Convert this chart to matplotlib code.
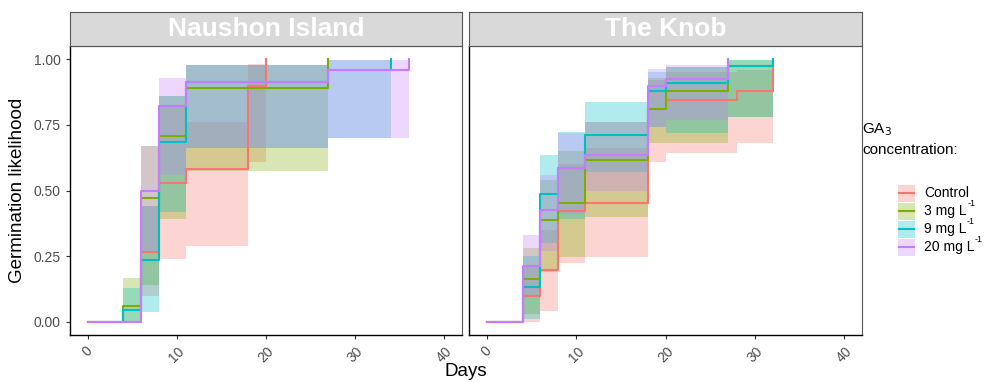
import matplotlib
matplotlib.use("Agg")
import matplotlib.pyplot as plt
from matplotlib.patches import Rectangle
from matplotlib.lines import Line2D

plt.rcParams['font.family'] = ['Liberation Sans', 'DejaVu Sans']

# ---------------- data ----------------
groups = ["Control", "3 mg L", "9 mg L", "20 mg L"]
group_sup = ["", "-1", "-1", "-1"]
colors = ["#F8766D", "#7CAE00", "#00BFC4", "#C77CFF"]
panels = ["Naushon Island", "The Knob"]

# Naushon Island
ni_ctrl_t = [0, 6, 8, 11, 18, 20]
ni_ctrl_y = [0, 0.266, 0.529, 0.580, 0.898, 1.0]
ni_ctrl_lo = [0, 0.10, 0.24, 0.29, 0.61, 1.0]
ni_ctrl_hi = [0, 0.44, 0.82, 0.76, 0.98, 1.0]

ni_3_t = [0, 4, 6, 8, 11, 27]
ni_3_y = [0, 0.060, 0.473, 0.709, 0.889, 1.0]
ni_3_lo = [0, 0.0, 0.14, 0.39, 0.575, 1.0]
ni_3_hi = [0, 0.167, 0.67, 0.86, 0.978, 1.0]

ni_9_t = [0, 4, 6, 8, 11, 27, 34]
ni_9_y = [0, 0.045, 0.234, 0.686, 0.913, 0.959, 1.0]
ni_9_lo = [0, 0.0, 0.037, 0.42, 0.66, 0.70, 1.0]
ni_9_hi = [0, 0.13, 0.44, 0.86, 0.978, 0.995, 1.0]

ni_20_t = [0, 6, 8, 11, 27, 36]
ni_20_y = [0, 0.500, 0.822, 0.913, 0.959, 1.0]
ni_20_lo = [0, 0.27, 0.56, 0.66, 0.70, 1.0]
ni_20_hi = [0, 0.67, 0.93, 0.978, 0.995, 1.0]

# The Knob
tk_ctrl_t = [0, 4, 6, 8, 11, 18, 20, 28, 32]
tk_ctrl_y = [0, 0.100, 0.196, 0.422, 0.454, 0.810, 0.845, 0.877, 1.0]
tk_ctrl_lo = [0, 0.0, 0.043, 0.225, 0.247, 0.61, 0.644, 0.68, 1.0]
tk_ctrl_hi = [0, 0.21, 0.35, 0.60, 0.66, 0.93, 0.95, 0.96, 1.0]

tk_3_t = [0, 4, 6, 8, 11, 18, 20, 27, 32]
tk_3_y = [0, 0.164, 0.389, 0.454, 0.616, 0.810, 0.877, 0.972, 1.0]
tk_3_lo = [0, 0.03, 0.19, 0.247, 0.40, 0.68, 0.682, 0.78, 1.0]
tk_3_hi = [0, 0.28, 0.54, 0.65, 0.76, 0.92, 0.97, 0.997, 1.0]

tk_9_t = [0, 4, 6, 8, 11, 18, 20, 27, 32]
tk_9_y = [0, 0.132, 0.486, 0.584, 0.711, 0.877, 0.908, 0.972, 1.0]
tk_9_lo = [0, 0.01, 0.30, 0.39, 0.57, 0.74, 0.718, 0.78, 1.0]
tk_9_hi = [0, 0.25, 0.635, 0.724, 0.836, 0.95, 0.97, 0.997, 1.0]

tk_20_t = [0, 4, 6, 8, 11, 18, 20, 27]
tk_20_y = [0, 0.211, 0.425, 0.584, 0.635, 0.898, 0.925, 1.0]
tk_20_lo = [0, 0.10, 0.27, 0.41, 0.50, 0.74, 0.77, 1.0]
tk_20_hi = [0, 0.33, 0.56, 0.72, 0.76, 0.963, 0.976, 1.0]

panel_data = [
    [(ni_ctrl_t, ni_ctrl_y, ni_ctrl_lo, ni_ctrl_hi),
     (ni_3_t, ni_3_y, ni_3_lo, ni_3_hi),
     (ni_9_t, ni_9_y, ni_9_lo, ni_9_hi),
     (ni_20_t, ni_20_y, ni_20_lo, ni_20_hi)],
    [(tk_ctrl_t, tk_ctrl_y, tk_ctrl_lo, tk_ctrl_hi),
     (tk_3_t, tk_3_y, tk_3_lo, tk_3_hi),
     (tk_9_t, tk_9_y, tk_9_lo, tk_9_hi),
     (tk_20_t, tk_20_y, tk_20_lo, tk_20_hi)],
]

x_ticks = [0, 10, 20, 30, 40]
y_ticks = [0.0, 0.25, 0.5, 0.75, 1.0]
y_ticklabels = ["0.00", "0.25", "0.50", "0.75", "1.00"]

# ---------------- figure ----------------
W, H = 995, 383
fig = plt.figure(figsize=(W / 100, H / 100), dpi=100)

def px_axes(x0, y0, x1, y1, **kw):
    return fig.add_axes([x0 / W, 1 - y1 / H, (x1 - x0) / W, (y1 - y0) / H], **kw)

panel_px = [(70, 462), (469, 862)]
top, bottom = 46, 335
strip_top = 12
grey_txt = "#4D4D4D"

for i, (x0, x1) in enumerate(panel_px):
    ax = px_axes(x0, top, x1, bottom)
    for (t, y, lo, hi), c in zip(panel_data[i], colors):
        ax.fill_between(t, lo, hi, step="post", color=c, alpha=0.3, linewidth=0)
    for (t, y, lo, hi), c in zip(panel_data[i], colors):
        ax.step(t, y, where="post", color=c, linewidth=1.5)
    ax.set_xlim(-2, 42)
    ax.set_ylim(-0.05, 1.05)
    ax.set_xticks(x_ticks)
    ax.set_xticklabels([str(v) for v in x_ticks], rotation=45, color=grey_txt,
                       fontsize=10, ha="center", va="top")
    ax.set_yticks(y_ticks)
    if i == 0:
        ax.set_yticklabels(y_ticklabels, color=grey_txt, fontsize=10)
        ax.set_ylabel("Germination likelihood", fontsize=13.5, labelpad=6)
    else:
        ax.set_yticklabels([])
    ax.tick_params(axis="both", direction="out", length=3, width=0.8, color="#333333")
    if i == 1:
        ax.tick_params(axis="y", length=0)
    for s in ax.spines.values():
        s.set_color("#555555")
        s.set_linewidth(0.8)
    ax.spines["bottom"].set_color("black")
    ax.spines["bottom"].set_linewidth(1.0)
    ax.spines["left"].set_color("black")
    ax.spines["left"].set_linewidth(1.0)

    sax = px_axes(x0, strip_top, x1, top)
    sax.set_facecolor("#D9D9D9")
    sax.set_xticks([])
    sax.set_yticks([])
    for s in sax.spines.values():
        s.set_color("#555555")
        s.set_linewidth(0.8)
    sax.text(0.5, 0.5, panels[i], transform=sax.transAxes, ha="center", va="center",
             color="white", fontsize=19, fontweight="bold")

fig.text(466 / W, 1 - 371 / H, "Days", ha="center", va="center", fontsize=13.5)

# ---------------- legend ----------------
fig.text(862 / W, 1 - 139 / H, "GA$_3$\nconcentration:", ha="left", va="center",
         fontsize=11, linespacing=1.5)
entry_y = [193, 211, 229, 247]
renderer = fig.canvas.get_renderer()
for lab, sup, c, yy in zip(groups, group_sup, colors, entry_y):
    fig.patches.append(Rectangle((898 / W, 1 - (yy + 8.5) / H), 17 / W, 17 / H,
                                 transform=fig.transFigure, facecolor=c, alpha=0.3,
                                 edgecolor="none"))
    fig.lines.append(Line2D([899 / W, 914 / W], [1 - yy / H, 1 - yy / H],
                            transform=fig.transFigure, color=c, linewidth=1.5))
    t = fig.text(924 / W, 1 - yy / H, lab, ha="left", va="center", fontsize=10)
    if sup:
        bb = t.get_window_extent(renderer=renderer)
        fig.text((bb.x1 + 0.5) / W, 1 - (yy - 3) / H, sup, ha="left", va="bottom",
                 fontsize=6.5)

fig.savefig("out.png", dpi=100)
